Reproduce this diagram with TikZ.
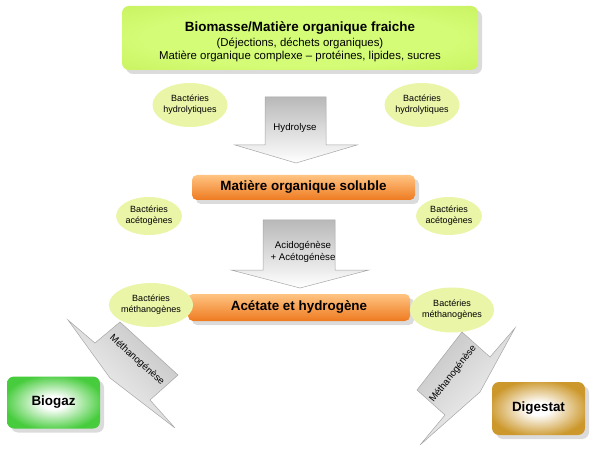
\documentclass[tikz,border=0pt]{standalone}
\usepackage{fontspec}
\setmainfont{Liberation Sans}
\usetikzlibrary{shapes.geometric,shadows}
\definecolor{bactfill}{RGB}{234,245,168}
\definecolor{limeout}{RGB}{190,234,76}
\definecolor{limein}{RGB}{212,252,118}
\definecolor{orgtop}{RGB}{255,196,130}
\definecolor{orgbot}{RGB}{238,122,32}
\definecolor{biogreen}{RGB}{70,204,60}
\definecolor{digold}{RGB}{204,152,44}
\pgfdeclareradialshading{limeshade}{\pgfpoint{0bp}{0bp}}{color(0bp)=(limein); color(22bp)=(limein); color(50bp)=(limeout)}
\pgfdeclareradialshading{greenshade}{\pgfpoint{0bp}{0bp}}{color(0bp)=(white); color(6bp)=(white); color(27bp)=(biogreen); color(50bp)=(biogreen)}
\pgfdeclareradialshading{goldshade}{\pgfpoint{0bp}{0bp}}{color(0bp)=(white); color(6bp)=(white); color(27bp)=(digold); color(50bp)=(digold)}
\tikzset{
  boxshadow/.style={drop shadow={shadow xshift=4pt, shadow yshift=-4pt, fill=black!28}},
  topbox/.style={rounded corners=7pt, shading=limeshade, boxshadow, minimum width=356pt, minimum height=64pt, inner sep=0pt},
  orangebox/.style={rounded corners=5pt, top color=orgtop, bottom color=orgbot, boxshadow, minimum width=222pt, minimum height=26pt, inner sep=0pt, font=\fontsize{13.4}{15}\selectfont\bfseries},
  endbox/.style={rounded corners=7pt, boxshadow, minimum width=93pt, minimum height=52pt, inner sep=0pt, font=\fontsize{13.4}{15}\selectfont\bfseries},
  bact/.style={ellipse, fill=bactfill, inner sep=0pt, align=center, font=\fontsize{9}{10.8}\selectfont},
  procarrow/.style={draw=gray!70, line width=0.5pt, top color=gray!55, bottom color=white},
  diagarrow/.style={draw=gray!70, line width=0.5pt, top color=gray!45, bottom color=gray!5},
  arrowlabel/.style={align=center, font=\fontsize{9.7}{11.5}\selectfont, inner sep=0pt}
}
\begin{document}
\begin{tikzpicture}[x=1pt,y=-1pt]
\useasboundingbox (0,0) rectangle (597,449);

% top box
\node[topbox] (bio) at (300,38) {};
\node[align=center, font=\fontsize{11.4}{13}\selectfont, inner sep=0pt] (biotext) at (300,41.5)
  {{\fontsize{13.4}{15}\selectfont\bfseries Biomasse/Matière organique fraiche}\\[2pt]
   (Déjections, déchets organiques)\\
   Matière organique complexe – protéines, lipides, sucres};

% vertical process arrows
\path[procarrow] (265,97) -- (326,97) -- (326,145) -- (357,145) -- (296,163) -- (235,145) -- (265,145) -- cycle;
\node[arrowlabel] (hyd) at (295,128) {Hydrolyse};

\path[procarrow] (263,220) -- (335,220) -- (335,270) -- (369,270) -- (300,288) -- (231,270) -- (263,270) -- cycle;
\node[arrowlabel] (acid) at (303,252) {Acidogénèse\\+ Acétogénèse};

% diagonal arrows
\path[diagarrow, shading angle=-45] (68,320) -- (95,343) -- (120,322) -- (178,375) -- (150,400) -- (175,428) -- (110,378) -- cycle;
\node[arrowlabel, rotate=-42] (methL) at (137,360) {Méthanogénèse};

\path[diagarrow, shading angle=45] (515,328) -- (490,357) -- (462,332) -- (417,390) -- (445,415) -- (420,445) -- (480,392) -- cycle;
\node[arrowlabel, rotate=52] (methR) at (453,374) {Méthanogénèse};

% orange boxes
\node[orangebox, minimum width=223pt, minimum height=25pt] (sol) at (303.5,187.5) {Matière organique soluble};
\node[orangebox, minimum height=27pt] (ace) at (299,307.5) {Acétate et hydrogène};

% bacteria ellipses
\node[bact, minimum width=72pt, minimum height=44pt] (hL) at (190,105) {Bactéries\\hydrolytiques};
\node[bact, minimum width=70pt, minimum height=44pt] (hR) at (422,105) {Bactéries\\hydrolytiques};
\node[bact, minimum width=60pt, minimum height=38pt] (aL) at (149,216) {Bactéries\\acétogènes};
\node[bact, minimum width=62pt, minimum height=38pt] (aR) at (449,216) {Bactéries\\acétogènes};
\node[bact, minimum width=72pt, minimum height=44pt] (mL) at (151,305) {Bactéries\\méthanogènes};
\node[bact, minimum width=70pt, minimum height=45pt] (mR) at (452,310) {Bactéries\\méthanogènes};

% end boxes
\node[endbox, shading=greenshade] (gaz) at (53.5,402.5) {Biogaz};
\node[endbox, shading=goldshade, minimum height=53pt] (dig) at (538.5,408.5) {Digestat};
\end{tikzpicture}
\end{document}
